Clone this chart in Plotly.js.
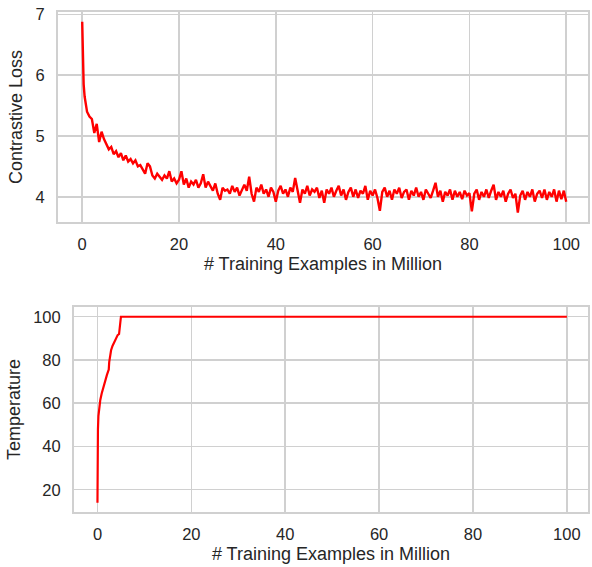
<!DOCTYPE html>
<html>
<head>
<meta charset="utf-8">
<script src="https://cdn.plot.ly/plotly-3.0.1.min.js"></script>
<style>html,body{margin:0;padding:0;background:#fff;}#chart{width:592px;height:567px;}</style>
</head>
<body>
<div id="chart"></div>
<script>
// Contrastive loss curve (x in million training examples)
const lossX = [0,0.1,0.2,0.3,0.5,0.75,1,1.5,2,2.5,3,3.5,4,4.5,5,5.5,6,6.5,7,7.5,8,8.5,9,9.5,10,10.5,11,11.5,12,12.5,13,13.5,14,14.5,15,15.5,16,16.5,17,17.5,18,18.5,19,19.5,20,20.5,21,21.5,22,22.5,23,23.5,24,24.5,25,25.5,26,26.5,27,27.5,28,28.5,29,29.5,
30,30.5,31,31.5,32,32.5,33,33.5,34,34.5,35,35.5,36,36.5,37,37.5,38,38.5,39,39.5,40,40.5,41,41.5,42,42.5,43,43.5,44,44.5,45,45.5,46,46.5,47,47.5,48,48.5,49,49.5,
50,50.5,51,51.5,52,52.5,53,53.5,54,54.5,55,55.5,56,56.5,57,57.5,58,58.5,59,59.5,60,60.5,61,61.5,62,62.5,63,63.5,64,64.5,65,65.5,66,66.5,67,67.5,68,68.5,69,69.5,
70,70.5,71,71.5,72,72.5,73,73.5,74,74.5,75,75.5,76,76.5,77,77.5,78,78.5,79,79.5,80,80.5,81,81.5,82,82.5,83,83.5,84,84.5,85,85.5,86,86.5,87,87.5,88,88.5,89,89.5,
90,90.5,91,91.5,92,92.5,93,93.5,94,94.5,95,95.5,96,96.5,97,97.5,98,98.5,99,99.5,100];
const lossY = [6.88,6.3,6.0,5.85,5.65,5.5,5.4,5.32,5.28,5.05,5.2,4.9,5.07,4.95,4.85,4.78,4.82,4.7,4.75,4.65,4.72,4.6,4.68,4.58,4.62,4.55,4.6,4.5,4.52,4.45,4.38,4.55,4.5,4.35,4.3,4.38,4.32,4.28,4.35,4.3,4.42,4.25,4.3,4.22,4.28,4.42,4.2,4.3,4.15,4.25,4.2,4.28,4.15,4.22,4.37,4.15,4.25,4.18,4.1,4.22,4.05,3.95,4.15,4.1,
4.12,4.05,4.18,4.08,4.15,4.02,4.12,4.2,4.1,4.33,4.05,3.92,4.15,4.08,4.2,4.05,4.12,4.0,4.15,4.08,3.92,4.1,4.18,4.05,4.12,4.0,4.15,4.08,4.31,4.1,3.9,4.12,4.05,4.18,4.02,4.12,4.08,4.15,3.98,4.1,
3.9,4.12,4.05,4.15,4.0,4.1,4.18,4.02,4.12,3.95,4.08,4.15,4.0,4.12,3.98,4.1,4.05,4.18,3.95,4.1,4.02,4.12,3.98,3.77,4.08,4.15,4.0,4.1,3.95,4.12,4.05,4.15,3.98,4.08,4.12,3.95,4.1,4.02,4.15,4.0,
4.08,3.95,4.12,4.05,3.98,4.1,4.23,4.0,4.1,3.92,4.08,4.02,4.12,3.95,4.1,4.0,4.08,3.96,4.1,4.02,4.06,3.76,4.05,4.12,3.95,4.08,4.0,4.12,3.98,4.1,4.2,3.95,4.08,4.0,4.1,3.92,4.05,4.12,3.98,4.05,
3.74,4.02,4.1,3.95,4.08,4.0,4.12,3.92,4.05,4.1,3.98,4.12,3.95,4.08,4.0,4.12,3.92,4.1,3.96,4.1,3.92];

// Temperature curve
const tempX = [0,0,0.05,0.1,0.2,0.4,0.6,0.9,1.3,1.7,2.0,2.3,2.4,2.5,2.7,2.9,3.2,3.5,3.9,4.3,4.6,4.75,4.9,5.0,100];
const tempY = [14,25,40,48,54,58,61.5,64.5,68,71,73,75,75.5,79,82,84.5,86.5,88,90,91.5,92,95,99,100,100];

const xTicks = [0,20,40,60,80,100];
const lossTicks = [4,5,6,7];
const tempTicks = [20,40,60,80,100];

const W = 592, H = 567;
const txt = '#262626';
const gridC = '#d0d0d0';
const fontFam = 'Liberation Sans, Arial, sans-serif';
const tickSize = 16.5, titleSize = 18;

const axBase = {
  showgrid: true, gridcolor: gridC, gridwidth: 1.5,
  showline: true, linecolor: gridC, linewidth: 2, mirror: true,
  zeroline: false, ticks: '', tickfont: {size: tickSize, color: txt, family: fontFam},
  automargin: false
};

const traces = [
  {x: lossX, y: lossY, type: 'scatter', mode: 'lines', line: {color: '#ff0000', width: 2.4}, xaxis: 'x', yaxis: 'y', hoverinfo: 'skip'},
  {x: tempX, y: tempY, type: 'scatter', mode: 'lines', line: {color: '#ff0000', width: 2.2}, xaxis: 'x2', yaxis: 'y2', hoverinfo: 'skip'}
];

const layout = {
  width: W, height: H,
  margin: {l: 0, r: 0, t: 0, b: 0},
  paper_bgcolor: '#ffffff', plot_bgcolor: '#ffffff',
  showlegend: false,
  font: {family: fontFam, color: txt},
  xaxis: Object.assign({}, axBase, {
    domain: [58/W, 588/W], range: [-5, 104.5], tickvals: xTicks, ticktext: xTicks.map(String),
    ticklabelstandoff: 6,
    title: {text: '# Training Examples in Million', font: {size: titleSize, color: txt, family: fontFam}, standoff: 6},
    anchor: 'y'
  }),
  yaxis: Object.assign({}, axBase, {
    domain: [1 - 222/H, 1 - 12/H], range: [3.585, 7.04], tickvals: lossTicks, ticktext: lossTicks.map(String),
    ticklabelstandoff: 8,
    title: {text: 'Contrastive Loss', font: {size: titleSize, color: txt, family: fontFam}, standoff: 8},
    anchor: 'x'
  }),
  xaxis2: Object.assign({}, axBase, {
    domain: [74/W, 588/W], range: [-5, 104.5], tickvals: xTicks, ticktext: xTicks.map(String),
    ticklabelstandoff: 6,
    title: {text: '# Training Examples in Million', font: {size: titleSize, color: txt, family: fontFam}, standoff: 6},
    anchor: 'y2'
  }),
  yaxis2: Object.assign({}, axBase, {
    domain: [1 - 512/H, 1 - 307/H], range: [9.7, 104.5], tickvals: tempTicks, ticktext: tempTicks.map(String),
    ticklabelstandoff: 8,
    title: {text: 'Temperature', font: {size: titleSize, color: txt, family: fontFam}, standoff: 8},
    anchor: 'x2'
  })
};

Plotly.newPlot('chart', traces, layout, {staticPlot: true, displayModeBar: false});
</script>
</body>
</html>
